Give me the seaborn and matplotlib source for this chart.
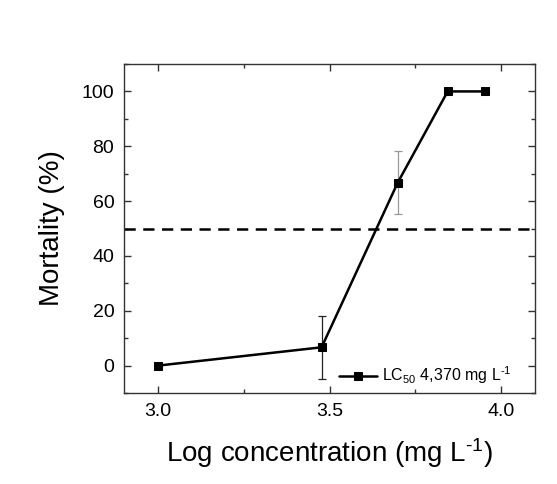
import numpy as np
import pandas as pd
import matplotlib
matplotlib.use("Agg")
import matplotlib.pyplot as plt
import seaborn as sns
from matplotlib.ticker import MultipleLocator

# Data
log_conc = [3.0, 3.477, 3.699, 3.845, 3.954]
mortality = [0.0, 6.67, 66.67, 100.0, 100.0]
err = [0.0, 11.55, 11.55, 0.0, 0.0]
lc50_level = 50
legend_label = r"LC$_{50}$ 4,370 mg L$^{\text{-}1}$"
x_label = r"Log concentration (mg L$^{\text{-}1}$)"
y_label = "Mortality (%)"
x_ticks = [3.0, 3.5, 4.0]
x_tick_labels = ["3.0", "3.5", "4.0"]
y_ticks = [0, 20, 40, 60, 80, 100]
y_tick_labels = ["0", "20", "40", "60", "80", "100"]

sns.set_theme(style="white")
plt.rcParams['font.family'] = ['Liberation Sans', 'DejaVu Sans']
plt.rcParams['mathtext.fontset'] = 'custom'
plt.rcParams['mathtext.rm'] = 'Liberation Sans'
plt.rcParams['mathtext.it'] = 'Liberation Sans'
plt.rcParams['text.color'] = 'black'
plt.rcParams['axes.labelcolor'] = 'black'
plt.rcParams['xtick.color'] = 'black'
plt.rcParams['ytick.color'] = 'black'

df = pd.DataFrame({"x": log_conc, "y": mortality, "e": err})

fig = plt.figure(figsize=(5.57, 4.84), dpi=100)
ax = fig.add_axes([124/557, 1-393/484, (535-124)/557, (393-64)/484])

# error bars (only where present)
sub = df[df["e"] > 0]
cols = ["#222222", "#999999"]
for (i, r), c in zip(sub.iterrows(), cols):
    ax.errorbar(r["x"], r["y"], yerr=r["e"], fmt="none", ecolor=c,
                elinewidth=0.9, capsize=3, capthick=0.9, zorder=2)

sns.lineplot(data=df, x="x", y="y", ax=ax, color="black", marker="s",
             markersize=6, markeredgecolor="black", linewidth=1.8,
             label=legend_label, zorder=3)

ax.axhline(lc50_level, color="black", linestyle=(0, (4.5, 3)), linewidth=1.8, zorder=1)

ax.set_xlim(2.9, 4.1)
ax.set_ylim(-10, 110)
ax.set_xticks(x_ticks)
ax.set_xticklabels(x_tick_labels)
ax.set_yticks(y_ticks)
ax.set_yticklabels(y_tick_labels)
ax.xaxis.set_minor_locator(MultipleLocator(0.25))
ax.yaxis.set_minor_locator(MultipleLocator(10))

ax.tick_params(which="major", direction="in", length=5, width=1, top=True, right=True,
               bottom=True, left=True, labelsize=14, pad=7, color="#333333",
               labelcolor="black")
ax.tick_params(which="minor", direction="in", length=3, width=1, top=True, right=True,
               bottom=True, left=True, color="#333333")
for s in ax.spines.values():
    s.set_color("#333333")
    s.set_linewidth(1.0)

ax.set_xlabel(x_label, fontsize=20, labelpad=12)
ax.set_ylabel(y_label, fontsize=20, labelpad=12)

ax.legend(loc="center left", bbox_to_anchor=((339-124)/411, (393-375.5)/329),
          frameon=False, fontsize=11.5, handlelength=2.4,
          handletextpad=0.3, borderaxespad=0, borderpad=0)

fig.savefig("out.png", dpi=100, facecolor="white")
